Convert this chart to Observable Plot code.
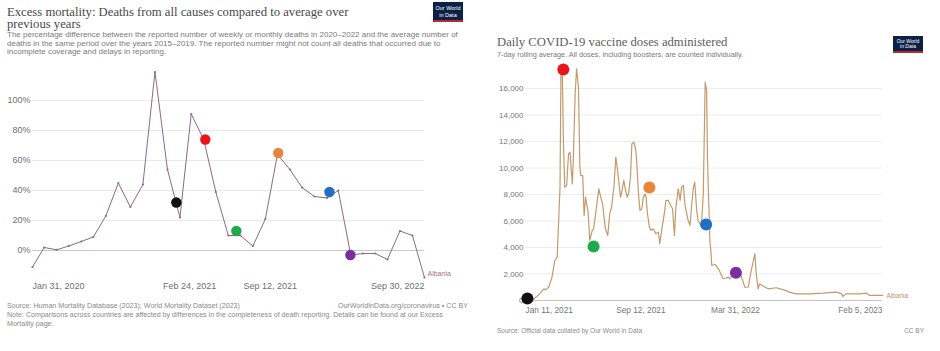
<!DOCTYPE html>
<html>
<head>
<meta charset="utf-8">
<script src="https://cdn.jsdelivr.net/npm/d3@7"></script>
<script src="https://cdn.jsdelivr.net/npm/@observablehq/plot@0.6"></script>
<style>
  html, body { margin: 0; padding: 0; background: #fff; }
  #wrap { position: relative; width: 940px; height: 351px; overflow: hidden; background: #fff; font-family: "Liberation Sans", Arial, sans-serif; }
  .abs { position: absolute; white-space: nowrap; }
  .title { font-family: "Liberation Serif", "DejaVu Serif", serif; font-size: 12.7px; line-height: 12.4px; }
  .logo { position: absolute; background: #0b2148; color: #fff; font-family: "Liberation Sans", sans-serif; text-align: center; border-bottom: 2px solid #c0262d; box-sizing: border-box; }
  .chart { position: absolute; }
</style>
</head>
<body>
<div id="wrap">
  <!-- left panel texts -->
  <div class="abs title" style="left:7px; top:6px; color:#474747;">Excess mortality: Deaths from all causes compared to average over<br>previous years</div>
  <div class="abs" style="left:7px; top:31.2px; font-size:8px; line-height:8.5px; color:#7a7a7a;">The percentage difference between the reported number of weekly or monthly deaths in 2020–2022 and the average number of<br>deaths in the same period over the years 2015–2019. The reported number might not count all deaths that occurred due to<br>incomplete coverage and delays in reporting.</div>
  <div class="logo" style="left:433px; top:2px; width:30px; height:20px; font-size:5.5px; line-height:6.5px; padding-top:3px;">Our World<br>in Data</div>
  <div class="abs" style="left:7px; top:301.5px; font-size:7.1px; line-height:9.3px; color:#8a8a8a;">Source: Human Mortality Database (2023); World Mortality Dataset (2023)<br>Note: Comparisons across countries are affected by differences in the completeness of death reporting. Details can be found at our Excess<br>Mortality page.</div>
  <div class="abs" style="right:472px; top:301.5px; font-size:7.1px; line-height:9.3px; color:#8a8a8a;">OurWorldInData.org/coronavirus • CC BY</div>

  <!-- right panel texts -->
  <div class="abs title" style="left:497px; top:36px; color:#5e5e5e;">Daily COVID-19 vaccine doses administered</div>
  <div class="abs" style="left:497px; top:50.5px; font-size:7.3px; line-height:7.5px; color:#7a7a7a;">7-day rolling average. All doses, including boosters, are counted individually.</div>
  <div class="logo" style="left:893px; top:36px; width:30px; height:17px; font-size:5px; line-height:5.8px; padding-top:2.5px;">Our World<br>in Data</div>
  <div class="abs" style="left:497px; top:326.5px; font-size:6.5px; line-height:7px; color:#8a8a8a;">Source: Official data collated by Our World in Data</div>
  <div class="abs" style="right:16px; top:326.5px; font-size:6.5px; line-height:7px; color:#8a8a8a;">CC BY</div>

  <div id="left" class="chart" style="left:0px; top:60px;"></div>
  <div id="right" class="chart" style="left:470px; top:60px;"></div>
</div>
<script>
// ---------- Left chart: excess mortality (Albania), monthly ----------
const mortDates = [
  "2020-01-31","2020-02-29","2020-03-31","2020-04-30","2020-05-31","2020-06-30",
  "2020-07-31","2020-08-31","2020-09-30","2020-10-31","2020-11-30","2020-12-31",
  "2021-01-31","2021-02-28","2021-03-31","2021-04-30","2021-05-31","2021-06-30",
  "2021-07-31","2021-08-31","2021-09-30","2021-10-31","2021-11-30","2021-12-31",
  "2022-01-31","2022-02-28","2022-03-31","2022-04-30","2022-05-31","2022-06-30",
  "2022-07-31","2022-08-31","2022-09-30"
];
const mortValues = [
  -11, 2, 0.5, 3, 6, 9,
  23, 45, 29, 44, 119, 54,
  22, 91, 74, 39, 10, 10,
  3, 21, 64, 54, 42, 36,
  35, 40, -3, -2, -2, -6,
  13, 10, -18
];
const mortYTicks = [0, 20, 40, 60, 80, 100];
const mortXTickDates = ["2020-01-31", "2021-02-24", "2021-09-12", "2022-09-30"];
const mortXTickLabels = ["Jan 31, 2020", "Feb 24, 2021", "Sep 12, 2021", "Sep 30, 2022"];
const mortMarkDates = ["2021-01-22", "2021-04-04", "2021-06-20", "2021-10-02", "2022-02-06", "2022-03-30"];
const mortMarkValues = [32, 74, 13, 65, 39, -3];

// ---------- Right chart: daily vaccine doses (Albania), 7-day avg ----------
const vaxDates = [
  "2021-01-11","2021-01-25","2021-02-10","2021-02-19","2021-02-22","2021-03-01","2021-03-08",
  "2021-03-14","2021-03-19","2021-03-25","2021-03-27","2021-03-30","2021-04-01","2021-04-04",
  "2021-04-08","2021-04-12","2021-04-15","2021-04-20","2021-04-22","2021-04-26","2021-04-29",
  "2021-05-03","2021-05-06","2021-05-08","2021-05-12","2021-05-15","2021-05-18","2021-05-23",
  "2021-05-27","2021-06-01","2021-06-04","2021-06-10","2021-06-15","2021-06-20","2021-06-23",
  "2021-06-29","2021-07-04","2021-07-08","2021-07-12","2021-07-17","2021-07-21","2021-07-24",
  "2021-07-27","2021-07-31","2021-08-03","2021-08-07","2021-08-10","2021-08-14","2021-08-17",
  "2021-08-21","2021-08-24","2021-08-28","2021-09-01","2021-09-03","2021-09-07","2021-09-10",
  "2021-09-14","2021-09-17","2021-09-21","2021-09-23","2021-09-26","2021-09-30","2021-10-03",
  "2021-10-08","2021-10-14","2021-10-19","2021-10-22","2021-10-27","2021-11-01","2021-11-04",
  "2021-11-09","2021-11-14","2021-11-18","2021-11-22","2021-11-25","2021-11-30","2021-12-04",
  "2021-12-07","2021-12-11","2021-12-14","2021-12-18","2021-12-21","2021-12-25","2021-12-28",
  "2022-01-01","2022-01-04","2022-01-08","2022-01-11","2022-01-15","2022-01-18","2022-01-22",
  "2022-01-26","2022-01-29","2022-01-31","2022-02-05","2022-02-07","2022-02-09","2022-02-16",
  "2022-02-23","2022-02-28","2022-03-05","2022-03-11","2022-03-16","2022-03-19","2022-03-26",
  "2022-04-10","2022-04-20","2022-04-27","2022-05-02","2022-05-11","2022-05-14","2022-05-18",
  "2022-05-21","2022-05-28","2022-06-08","2022-06-25","2022-07-13","2022-07-23","2022-08-06",
  "2022-09-04","2022-10-02","2022-10-30","2022-11-10","2022-11-13","2022-11-20","2022-12-18",
  "2023-01-02","2023-01-09","2023-02-05"
];
const vaxValues = [
  0, 0, 500, 880, 800, 1000, 1760,
  3020, 3270, 8550, 17360, 16860, 12330, 8550,
  8680, 11070, 11200, 8800, 10570, 15600, 17490,
  16100, 10060, 9430, 9430, 6420, 7800, 6800,
  4530, 5280, 5410, 7040, 8430, 7670, 7300,
  5410, 4910, 6540, 7040, 8550, 10820, 10060,
  9060, 7800, 8300, 9060, 8430, 7800, 8050,
  9310, 11830, 11950, 11450, 10570, 8050, 6790,
  6920, 7800, 8050, 7800, 6540, 5540, 5280,
  5410, 5030, 5160, 4280, 5540, 6670, 7550,
  7550, 7170, 6920, 4910, 7040, 8430, 7550,
  8550, 8680, 7300, 6540, 6040, 5660, 7040,
  8550, 8930, 6790, 6040, 5790, 5660, 8050,
  16480, 15850, 10570, 4400, 3770, 2640, 2720,
  2390, 2010, 1640, 1700, 1760, 1640, 2000,
  2070, 1000, 1000, 2000, 3530, 2000, 880,
  1260, 1100, 880, 960, 780, 630, 500,
  500, 550, 630, 520, 300, 500, 500,
  550, 380, 380
];
const vaxYTicks = [0, 2000, 4000, 6000, 8000, 10000, 12000, 14000, 16000];
const vaxXTickDates = ["2021-01-11", "2021-09-12", "2022-03-31", "2023-02-05"];
const vaxXTickLabels = ["Jan 11, 2021", "Sep 12, 2021", "Mar 31, 2022", "Feb 5, 2023"];
const vaxMarkDates = ["2021-01-15", "2021-04-01", "2021-06-04", "2021-09-30", "2022-01-28", "2022-04-01"];
const vaxMarkValues = [150, 17430, 4075, 8530, 5740, 2090];

const markColors = ["#111111", "#e8161c", "#1eaa4c", "#e8853a", "#1f6fc2", "#7a2f9e"];

// ---------- build tables ----------
const parse = d3.utcParse("%Y-%m-%d");
const mort = mortDates.map((d, i) => ({date: parse(d), value: mortValues[i]}));
const mortTicks = mortXTickDates.map((d, i) => ({date: parse(d), label: mortXTickLabels[i]}));
const mortMarks = mortMarkDates.map((d, i) => ({date: parse(d), value: mortMarkValues[i], color: markColors[i]}));
const vax = vaxDates.map((d, i) => ({date: parse(d), value: vaxValues[i]}));
const vaxTicks = vaxXTickDates.map((d, i) => ({date: parse(d), label: vaxXTickLabels[i]}));
const vaxMarks = vaxMarkDates.map((d, i) => ({date: parse(d), value: vaxMarkValues[i], color: markColors[i]}));

function xLabels(ticks, dy, fontSize, fill) {
  const n = ticks.length;
  return [
    Plot.text(ticks.slice(0, 1), {x: "date", text: "label", frameAnchor: "bottom", dy, textAnchor: "start", lineAnchor: "middle", fontSize, fill}),
    Plot.text(ticks.slice(1, n - 1), {x: "date", text: "label", frameAnchor: "bottom", dy, textAnchor: "middle", lineAnchor: "middle", fontSize, fill}),
    Plot.text(ticks.slice(n - 1), {x: "date", text: "label", frameAnchor: "bottom", dy, textAnchor: "end", lineAnchor: "middle", fontSize, fill})
  ];
}

const leftLine = "#8d6a7c";
const leftChart = Plot.plot({
  width: 470, height: 240,
  marginLeft: 32, marginRight: 46, marginTop: 11.5, marginBottom: 23,
  x: {type: "utc", domain: [parse("2020-01-31"), parse("2022-09-30")], axis: null},
  y: {domain: [-18, 119], axis: null},
  style: {fontFamily: "Liberation Sans, Arial, sans-serif", background: "transparent", overflow: "visible"},
  marks: [
    Plot.ruleY(mortYTicks.filter(d => d !== 0), {stroke: "#e9e9e9", strokeWidth: 1}),
    Plot.ruleY([0], {stroke: "#c8c8c8", strokeWidth: 1}),
    Plot.text(mortYTicks, {y: d => d, text: d => d + "%", frameAnchor: "left", textAnchor: "end", dx: -2, fontSize: 9, fill: "#6f6f6f"}),
    ...xLabels(mortTicks, 9, 9, "#6f6f6f"),
    Plot.line(mort, {x: "date", y: "value", stroke: leftLine, strokeWidth: 1}),
    Plot.dot(mort, {x: "date", y: "value", r: 1.1, fill: leftLine, stroke: "none"}),
    Plot.text(mort.slice(-1), {x: "date", y: "value", text: () => "Albania", textAnchor: "start", dx: 3, dy: -4, fontSize: 7, fill: "#a6708e"}),
    Plot.dot(mortMarks, {x: "date", y: "value", r: 5.2, fill: "color", stroke: "none"})
  ]
});
document.getElementById("left").appendChild(leftChart);

const rightLine = "#c39a6d";
const rightChart = Plot.plot({
  width: 470, height: 260,
  marginLeft: 55, marginRight: 58, marginTop: 6.8, marginBottom: 20,
  x: {type: "utc", domain: [parse("2021-01-11"), parse("2023-02-05")], axis: null},
  y: {domain: [0, 17600], axis: null},
  style: {fontFamily: "Liberation Sans, Arial, sans-serif", background: "transparent", overflow: "visible"},
  marks: [
    Plot.ruleY(vaxYTicks.filter(d => d !== 0), {stroke: "#ececec", strokeWidth: 1}),
    Plot.ruleY([0], {stroke: "#c4c4c4", strokeWidth: 1}),
    Plot.text(vaxYTicks, {y: d => d, text: d => d3.format(",")(d), frameAnchor: "left", textAnchor: "end", dx: -2, fontSize: 8, fill: "#777"}),
    ...xLabels(vaxTicks, 10, 8.3, "#777"),
    Plot.line(vax, {x: "date", y: "value", stroke: rightLine, strokeWidth: 1.2}),
    Plot.text(vax.slice(-1), {x: "date", y: "value", text: () => "Albania", textAnchor: "start", dx: 4, dy: 0, fontSize: 6.5, fill: "#bb9670"}),
    Plot.dot(vaxMarks, {x: "date", y: "value", r: 6, fill: "color", stroke: "none"})
  ]
});
document.getElementById("right").appendChild(rightChart);
</script>
</body>
</html>
